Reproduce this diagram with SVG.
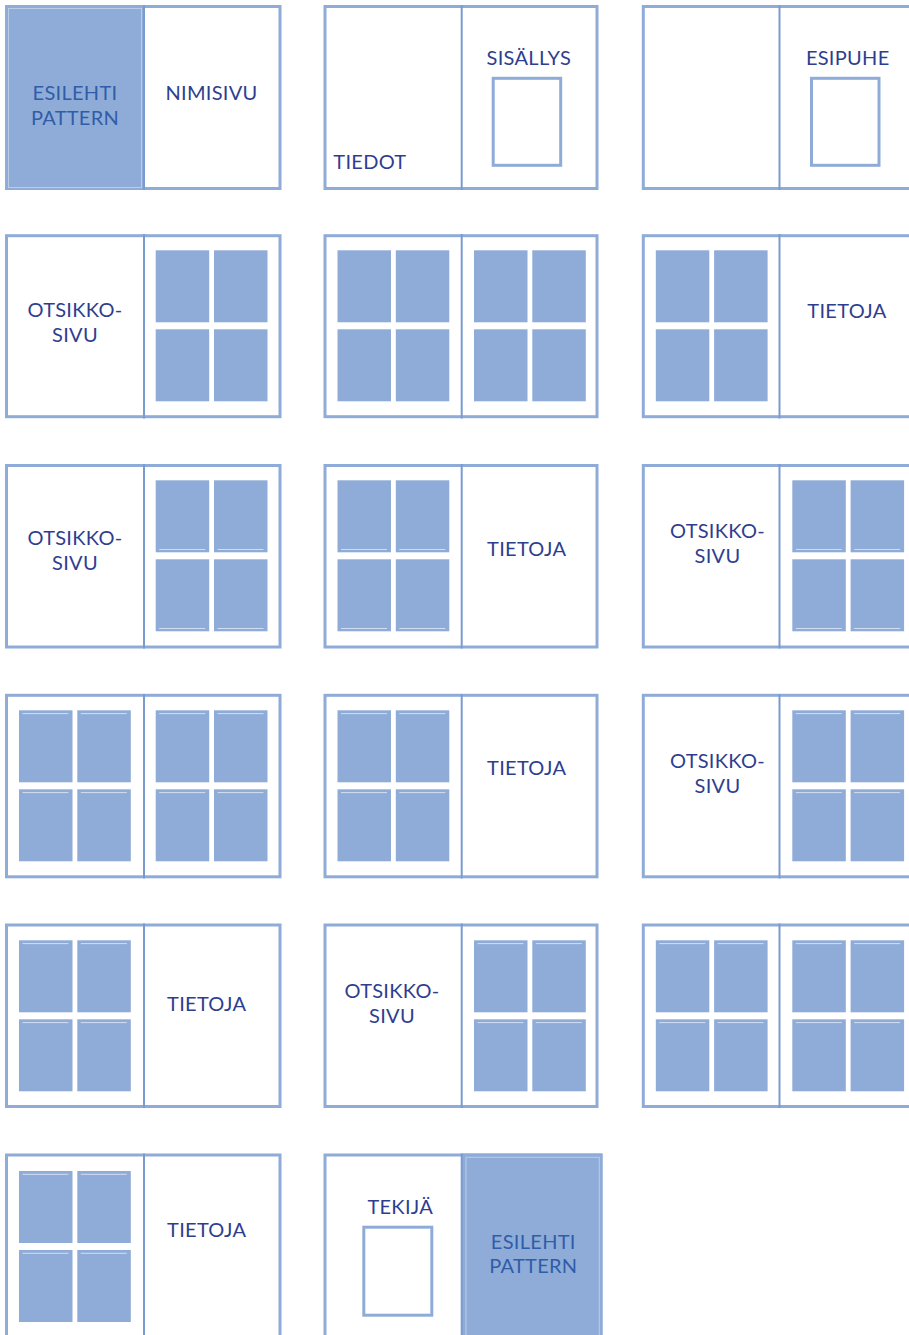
<svg xmlns="http://www.w3.org/2000/svg" xmlns:xlink="http://www.w3.org/1999/xlink" width="909" height="1335" viewBox="0 0 909 1335">
<style>
.frame{fill:#ffffff;stroke:#8FACD8;stroke-width:3}
.spine{stroke:#7A9BD0;stroke-width:2}
.fill{fill:#8FACD8}
.inner{fill:none;stroke:#B9CCEA;stroke-width:1}
.blk{fill:#8FACD8}
.ln{stroke:#D3DEF1;stroke-width:1}
.box{fill:#ffffff;stroke:#8FACD8;stroke-width:3}
.t{font-family:Lato,"Open Sans",sans-serif;font-size:20px;letter-spacing:0.3px;fill:#2E3E8F;text-anchor:middle}
.tl{text-anchor:start}
.tp{fill:#2F5DA8}
</style>
<defs>
<g id="grid">
<rect class="blk" x="0" y="0" width="53.5" height="72"/>
<rect class="blk" x="58.3" y="0" width="53.5" height="72"/>
<rect class="blk" x="0" y="79" width="53.5" height="72"/>
<rect class="blk" x="58.3" y="79" width="53.5" height="72"/>
</g>
<g id="gridB">
<use xlink:href="#grid"/>
<path class="ln" d="M3.5 69.2H49.5M61.8 69.2H107.8M3.5 148.2H49.5M61.8 148.2H107.8"/>
</g>
<g id="gridT">
<use xlink:href="#grid"/>
<path class="ln" d="M3.5 3.3H49.5M61.8 3.3H107.8M3.5 82.3H49.5M61.8 82.3H107.8"/>
</g>
</defs>
<rect width="909" height="1335" fill="#ffffff"/>

<!-- Row 1 -->
<g id="spread-1-1">
<rect class="frame" x="6.5" y="6.5" width="273.5" height="182"/>
<rect class="fill" x="5" y="5" width="139" height="185"/>
<rect class="inner" x="8.5" y="8.5" width="133" height="179"/>
<line class="spine" x1="144" y1="5" x2="144" y2="190"/>
<text class="t tp" x="75" y="100">ESILEHTI</text>
<text class="t tp" x="75" y="124.5">PATTERN</text>
<text class="t" x="211.5" y="100">NIMISIVU</text>
</g>
<g id="spread-1-2">
<rect class="frame" x="325" y="6.5" width="272" height="182"/>
<line class="spine" x1="461.7" y1="5" x2="461.7" y2="190"/>
<text class="t tl" x="333.3" y="169.3">TIEDOT</text>
<text class="t" x="528.8" y="65">SISÄLLYS</text>
<rect class="box" x="493.2" y="78.3" width="67.5" height="87"/>
</g>
<g id="spread-1-3">
<rect class="frame" x="643.3" y="6.5" width="273.5" height="182"/>
<line class="spine" x1="779.5" y1="5" x2="779.5" y2="190"/>
<text class="t" x="847.7" y="65">ESIPUHE</text>
<rect class="box" x="811.5" y="78.3" width="67.5" height="87"/>
</g>

<!-- Row 2 -->
<g id="spread-2-1">
<rect class="frame" x="6.5" y="235.7" width="273.5" height="181"/>
<line class="spine" x1="144" y1="234" x2="144" y2="418.5"/>
<text class="t" x="75" y="316.7">OTSIKKO-</text>
<text class="t" x="75" y="341.7">SIVU</text>
<use xlink:href="#grid" x="155.7" y="250.3"/>
</g>
<g id="spread-2-2">
<rect class="frame" x="325" y="235.7" width="272" height="181"/>
<line class="spine" x1="461.7" y1="234" x2="461.7" y2="418.5"/>
<use xlink:href="#grid" x="337.5" y="250.3"/>
<use xlink:href="#grid" x="474" y="250.3"/>
</g>
<g id="spread-2-3">
<rect class="frame" x="643.3" y="235.7" width="273.5" height="181"/>
<line class="spine" x1="779.5" y1="234" x2="779.5" y2="418.5"/>
<use xlink:href="#grid" x="655.8" y="250.3"/>
<text class="t" x="847" y="317.5">TIETOJA</text>
</g>

<!-- Row 3 -->
<g id="spread-3-1">
<rect class="frame" x="6.5" y="465.5" width="273.5" height="181.5"/>
<line class="spine" x1="144" y1="464" x2="144" y2="648.5"/>
<text class="t" x="75" y="545">OTSIKKO-</text>
<text class="t" x="75" y="569.5">SIVU</text>
<use xlink:href="#gridB" x="155.7" y="480.3"/>
</g>
<g id="spread-3-2">
<rect class="frame" x="325" y="465.5" width="272" height="181.5"/>
<line class="spine" x1="461.7" y1="464" x2="461.7" y2="648.5"/>
<use xlink:href="#gridB" x="337.5" y="480.3"/>
<text class="t" x="526.7" y="555.7">TIETOJA</text>
</g>
<g id="spread-3-3">
<rect class="frame" x="643.3" y="465.5" width="273.5" height="181.5"/>
<line class="spine" x1="779.5" y1="464" x2="779.5" y2="648.5"/>
<text class="t" x="717.5" y="537.5">OTSIKKO-</text>
<text class="t" x="717.5" y="562.5">SIVU</text>
<use xlink:href="#gridB" x="792.3" y="480.3"/>
</g>

<!-- Row 4 -->
<g id="spread-4-1">
<rect class="frame" x="6.5" y="695.3" width="273.5" height="181.5"/>
<line class="spine" x1="144" y1="694" x2="144" y2="878.5"/>
<use xlink:href="#gridT" x="19" y="710.3"/>
<use xlink:href="#gridT" x="155.7" y="710.3"/>
</g>
<g id="spread-4-2">
<rect class="frame" x="325" y="695.3" width="272" height="181.5"/>
<line class="spine" x1="461.7" y1="694" x2="461.7" y2="878.5"/>
<use xlink:href="#gridT" x="337.5" y="710.3"/>
<text class="t" x="526.7" y="775">TIETOJA</text>
</g>
<g id="spread-4-3">
<rect class="frame" x="643.3" y="695.3" width="273.5" height="181.5"/>
<line class="spine" x1="779.5" y1="694" x2="779.5" y2="878.5"/>
<text class="t" x="717.5" y="767.5">OTSIKKO-</text>
<text class="t" x="717.5" y="792.5">SIVU</text>
<use xlink:href="#gridT" x="792.3" y="710.3"/>
</g>

<!-- Row 5 -->
<g id="spread-5-1">
<rect class="frame" x="6.5" y="925" width="273.5" height="181.5"/>
<line class="spine" x1="144" y1="923.5" x2="144" y2="1108"/>
<use xlink:href="#gridT" x="19" y="940.3"/>
<text class="t" x="206.7" y="1011">TIETOJA</text>
</g>
<g id="spread-5-2">
<rect class="frame" x="325" y="925" width="272" height="181.5"/>
<line class="spine" x1="461.7" y1="923.5" x2="461.7" y2="1108"/>
<text class="t" x="392" y="997.5">OTSIKKO-</text>
<text class="t" x="392" y="1022.5">SIVU</text>
<use xlink:href="#gridT" x="474" y="940.3"/>
</g>
<g id="spread-5-3">
<rect class="frame" x="643.3" y="925" width="273.5" height="181.5"/>
<line class="spine" x1="779.5" y1="923.5" x2="779.5" y2="1108"/>
<use xlink:href="#gridT" x="655.8" y="940.3"/>
<use xlink:href="#gridT" x="792.3" y="940.3"/>
</g>

<!-- Row 6 -->
<g id="spread-6-1">
<rect class="frame" x="6.5" y="1155" width="273.5" height="190"/>
<line class="spine" x1="144" y1="1153.5" x2="144" y2="1340"/>
<use xlink:href="#gridT" x="19" y="1171"/>
<text class="t" x="206.7" y="1236.7">TIETOJA</text>
</g>
<g id="spread-6-2">
<rect class="frame" x="325" y="1155" width="276" height="190"/>
<rect class="fill" x="462" y="1153.5" width="140.5" height="190"/>
<rect class="inner" x="466" y="1157.3" width="133.3" height="190"/>
<line class="spine" x1="461.7" y1="1153.5" x2="461.7" y2="1340"/>
<text class="t" x="400.3" y="1214">TEKIJÄ</text>
<rect class="box" x="363.8" y="1227.2" width="68" height="88"/>
<text class="t tp" x="533.3" y="1249">ESILEHTI</text>
<text class="t tp" x="533.3" y="1273.3">PATTERN</text>
</g>
</svg>
